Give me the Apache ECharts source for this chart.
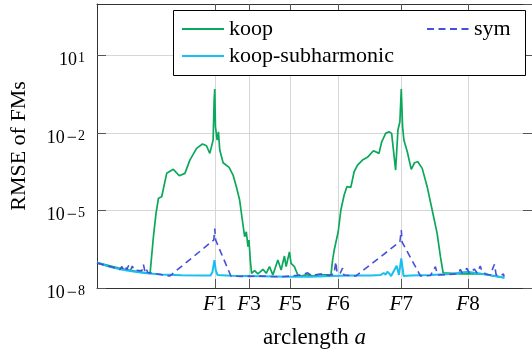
<!DOCTYPE html>
<html>
<head>
<meta charset="utf-8">
<script src="https://cdn.jsdelivr.net/npm/echarts@6/dist/echarts.min.js"></script>
<style>
html,body{margin:0;padding:0;background:#fff;}
#chart{width:532px;height:355px;}
</style>
</head>
<body>
<div id="chart"></div>
<script>
// ---- data ----
const fLabels = ['1', '3', '5', '6', '7', '8'];
const fPositions = [2.707, 3.494, 4.439, 5.545, 6.995, 8.529];
const yTicks = [1e-8, 1e-5, 1e-2, 1e1];

const koopA = [0, 0.57, 1.03, 1.22, 1.297, 1.357, 1.412, 1.487, 1.526, 1.602, 1.755, 1.892, 2.021, 2.135, 2.288, 2.426, 2.517, 2.593, 2.670, 2.693, 2.707, 2.723, 2.762, 2.792, 2.822, 2.899, 3.037, 3.128, 3.204, 3.279, 3.341, 3.394, 3.432, 3.471, 3.494, 3.524, 3.554, 3.622, 3.700, 3.815, 3.890, 3.966, 4.043, 4.158, 4.233, 4.309, 4.348, 4.423, 4.462, 4.501, 4.538, 4.616, 4.691, 4.828, 4.966, 5.103, 5.240, 5.378, 5.416, 5.453, 5.545, 5.606, 5.682, 5.744, 5.835, 5.911, 5.989, 6.103, 6.217, 6.355, 6.483, 6.545, 6.636, 6.712, 6.773, 6.865, 6.918, 6.963, 6.995, 7.025, 7.055, 7.133, 7.224, 7.300, 7.375, 7.476, 7.590, 7.705, 7.819, 7.895, 7.957, 8.35, 8.81, 9.36];
const koopV = [9.7e-8, 5.5e-8, 4.0e-8, 3.7e-8, 9.7e-7, 7.8e-6, 2.97e-5, 3.43e-5, 3.24e-5, 2.76e-4, 3.94e-4, 2.23e-4, 2.76e-4, 9.0e-4, 2.56e-3, 3.76e-3, 3.23e-3, 1.64e-3, 5.37e-3, 0.19, 0.506, 0.0176, 5.37e-3, 0.0112, 2.2e-3, 7.1e-4, 4.71e-4, 2.37e-4, 8.4e-5, 2.55e-5, 4.3e-6, 9.7e-7, 1.51e-6, 3.97e-7, 7.2e-7, 1.21e-7, 3.7e-8, 4.7e-8, 3.5e-8, 5.3e-8, 3.7e-8, 6.7e-8, 3.2e-8, 1.21e-7, 5.0e-8, 1.73e-7, 6.7e-8, 2.48e-7, 9.0e-8, 7.8e-8, 6.7e-8, 3.2e-8, 2.9e-8, 3.3e-8, 2.9e-8, 3.3e-8, 3.2e-8, 3.2e-8, 1.21e-7, 2.96e-7, 1.51e-6, 1.05e-5, 3.98e-5, 8.4e-5, 7.9e-5, 3.18e-4, 5.78e-4, 9.0e-4, 1.15e-3, 2.07e-3, 1.64e-3, 4.61e-3, 9.76e-3, 0.0112, 9.76e-3, 3.7e-4, 0.0131, 0.0274, 0.506, 0.0176, 5.37e-3, 1.89e-3, 3.94e-4, 7.1e-4, 7.76e-4, 4.3e-4, 8.4e-5, 1.05e-5, 1.31e-6, 1.63e-7, 3.9e-8, 3.5e-8, 3.6e-8, 2.5e-8];

const subA = [0, 0.229, 0.458, 0.686, 0.915, 1.144, 1.487, 1.945, 2.403, 2.609, 2.654, 2.70, 2.728, 2.769, 3.089, 3.776, 4.462, 4.920, 5.378, 5.835, 6.293, 6.522, 6.590, 6.636, 6.675, 6.728, 6.762, 6.888, 6.941, 6.995, 7.048, 7.208, 7.666, 8.124, 8.513, 8.810, 9.153, 9.368];
const subV = [9.7e-8, 7.1e-8, 5.7e-8, 4.8e-8, 4.2e-8, 3.7e-8, 3.3e-8, 3.1e-8, 3.05e-8, 3.05e-8, 4.2e-8, 1.2e-7, 5.0e-8, 3.2e-8, 2.95e-8, 2.85e-8, 2.7e-8, 2.7e-8, 2.9e-8, 3.05e-8, 3.05e-8, 3.2e-8, 3.8e-8, 3.3e-8, 4.3e-8, 3.5e-8, 2.9e-8, 7.3e-8, 3.2e-8, 1.41e-7, 2.9e-8, 3.05e-8, 3.2e-8, 3.5e-8, 4.3e-8, 3.6e-8, 2.9e-8, 2.5e-8];

const symA = [0, 0.343, 0.526, 0.572, 0.606, 0.652, 0.686, 0.732, 0.778, 0.812, 0.847, 1.030, 1.069, 1.098, 1.121, 1.167, 1.670, 2.684, 2.707, 2.728, 3.078, 3.318, 3.776, 4.233, 4.691, 4.844, 4.920, 5.149, 5.332, 5.446, 5.492, 5.515, 5.538, 5.584, 5.645, 5.675, 5.950, 6.963, 6.995, 7.014, 7.437, 7.666, 7.780, 7.826, 8.307, 8.352, 8.398, 8.506, 8.558, 8.673, 8.741, 8.810, 8.856, 8.886, 8.947, 9.039, 9.137, 9.176, 9.268, 9.343, 9.359];
const symV = [9.2e-8, 6.5e-8, 5.2e-8, 6.8e-8, 5.2e-8, 6.5e-8, 5.2e-8, 7.8e-8, 5.2e-8, 7.1e-8, 5.0e-8, 4.6e-8, 8.1e-8, 4.6e-8, 5.9e-8, 4.0e-8, 2.9e-8, 7.2e-7, 2.0e-6, 7.2e-7, 2.9e-8, 2.8e-8, 2.9e-8, 2.7e-8, 3.2e-8, 3.9e-8, 3.05e-8, 3.5e-8, 3.05e-8, 3.5e-8, 1.04e-7, 4.2e-8, 5.0e-8, 3.5e-8, 5.9e-8, 3.2e-8, 2.9e-8, 6.2e-7, 1.76e-6, 6.0e-7, 2.9e-8, 3.05e-8, 6.7e-8, 3.2e-8, 3.5e-8, 5.3e-8, 3.8e-8, 5.8e-8, 3.8e-8, 5.4e-8, 3.8e-8, 7.1e-8, 4.2e-8, 5.0e-8, 3.5e-8, 3.2e-8, 8.3e-8, 3.2e-8, 2.9e-8, 3.5e-8, 2.8e-8];

// ---- chart ----
const FONT = 'Liberation Serif';
const zip = (a, v) => a.map((x, i) => [x, v[i]]);
const frameColor = '#333';
const tickColor = '#555';
const gridColor = '#d6d6d6';

const chart = echarts.init(document.getElementById('chart'), null, {renderer: 'canvas'});

function fLabel(v) {
  let idx = 0, best = Infinity;
  fPositions.forEach((p, i) => { const d = Math.abs(p - v); if (d < best) { best = d; idx = i; } });
  return '{f|F}{n|' + fLabels[idx] + '}';
}
function yLabel(v) {
  const e = Math.round(Math.log10(v));
  return '{b|10}' + (e < 0 ? '{m|\u2212}{s|' + (-e) + '}' : '{s|' + e + '}');
}

const legendCommon = {
  orient: 'vertical', top: 18, itemWidth: 42, itemHeight: 14, itemGap: 5, padding: 0,
  itemStyle: {opacity: 0},
  textStyle: {fontFamily: FONT, fontSize: 22, lineHeight: 22, color: '#000'}
};

const option = {
  animation: false,
  backgroundColor: '#fff',
  grid: {left: 95, right: 0, top: 4, bottom: 67},
  xAxis: [{
    type: 'value', min: 0, max: 10, position: 'bottom',
    axisLine: {show: true, onZero: false, lineStyle: {color: frameColor, width: 1}},
    axisTick: {show: true, inside: true, length: 9, customValues: fPositions, lineStyle: {color: tickColor}},
    axisLabel: {customValues: fPositions, formatter: fLabel, margin: 6,
      rich: {
        f: {fontFamily: FONT, fontSize: 21, fontStyle: 'italic', color: '#000', lineHeight: 21},
        n: {fontFamily: FONT, fontSize: 21, color: '#000', lineHeight: 21}
      }},
    splitLine: {show: true, lineStyle: {color: gridColor, width: 1}},
    name: '{r|arclength }{i|a}', nameLocation: 'middle', nameGap: 38,
    nameTextStyle: {rich: {
      r: {fontFamily: FONT, fontSize: 23, color: '#000', lineHeight: 23},
      i: {fontFamily: FONT, fontSize: 23, fontStyle: 'italic', color: '#000', lineHeight: 23}
    }}
  }, {
    type: 'value', min: 0, max: 10, position: 'top',
    axisLine: {show: true, onZero: false, lineStyle: {color: frameColor, width: 1}},
    axisTick: {show: true, inside: true, length: 9, customValues: fPositions, lineStyle: {color: tickColor}},
    axisLabel: {show: false}, splitLine: {show: false}
  }],
  yAxis: [{
    type: 'log', logBase: 10, min: 1e-8, max: 1e3, interval: 3, position: 'left',
    axisLine: {show: true, onZero: false, lineStyle: {color: frameColor, width: 1}},
    axisTick: {show: true, inside: true, length: 9, lineStyle: {color: tickColor}},
    minorTick: {show: false},
    axisLabel: {formatter: yLabel, margin: 12, padding: [10, 0, 0, 0], showMaxLabel: false,
      rich: {
        b: {fontFamily: FONT, fontSize: 18, lineHeight: 18, color: '#000', verticalAlign: 'bottom', padding: [4, 0, 0, 0]},
        m: {fontFamily: FONT, fontSize: 18, lineHeight: 16, color: '#000', verticalAlign: 'top', padding: [0, 0, 0, 2]},
        s: {fontFamily: FONT, fontSize: 14, lineHeight: 14, color: '#000', verticalAlign: 'top', padding: [0, 0, 0, 1]}
      }},
    splitLine: {show: true, lineStyle: {color: gridColor, width: 1}},
    name: 'RMSE of FMs', nameLocation: 'middle', nameGap: 67,
    nameTextStyle: {fontFamily: FONT, fontSize: 22, color: '#000', lineHeight: 22}
  }, {
    type: 'log', logBase: 10, min: 1e-8, max: 1e3, interval: 3, position: 'right',
    axisLine: {show: true, onZero: false, lineStyle: {color: frameColor, width: 1}},
    axisTick: {show: true, inside: true, length: 9, lineStyle: {color: tickColor}},
    minorTick: {show: false},
    axisLabel: {show: false}, splitLine: {show: false}
  }],
  legend: [
    Object.assign({data: ['koop', 'koop-subharmonic'], left: 181}, legendCommon),
    Object.assign({data: ['sym'], left: 426}, legendCommon)
  ],
  graphic: [{
    type: 'rect', z: 3, silent: true,
    shape: {x: 173.5, y: 10.5, width: 352, height: 65},
    style: {fill: '#fff', stroke: '#000', lineWidth: 1}
  }],
  series: [{
    name: 'koop', type: 'line', symbol: 'none', data: zip(koopA, koopV),
    lineStyle: {color: '#0aa85a', width: 1.7}, itemStyle: {color: '#0aa85a'}, z: 2
  }, {
    name: 'koop-subharmonic', type: 'line', symbol: 'none', data: zip(subA, subV),
    lineStyle: {color: '#18bff0', width: 2}, itemStyle: {color: '#18bff0'}, z: 2
  }, {
    name: 'sym', type: 'line', symbol: 'none', data: zip(symA, symV),
    lineStyle: {color: '#4650d8', width: 1.6, type: [7, 4.5]}, itemStyle: {color: '#4650d8'}, z: 2
  }]
};
chart.setOption(option);
</script>
</body>
</html>
